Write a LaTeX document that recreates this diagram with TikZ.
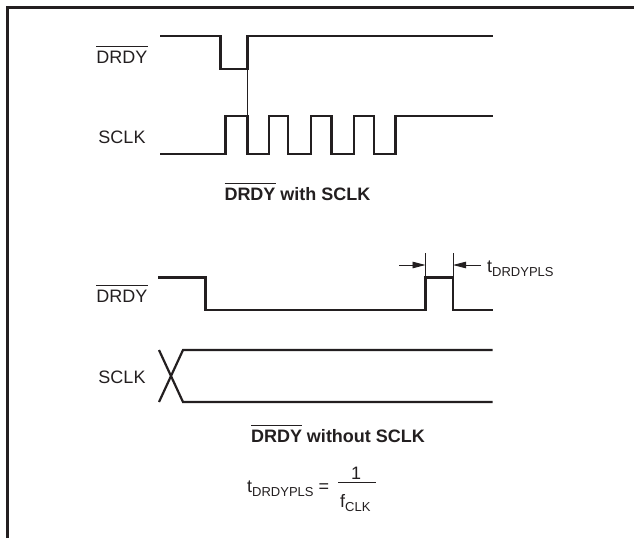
\documentclass[tikz,border=0pt]{standalone}
\usepackage{fontspec}
\setmainfont{Liberation Sans}
\usetikzlibrary{arrows.meta}
\definecolor{ink}{HTML}{231F20}
\newcommand{\ovl}[1]{\leavevmode\vbox{\hrule height 1pt\kern 4pt\hbox{#1}}}
\newcommand{\subx}[1]{\raisebox{-4pt}{\fontsize{13}{13}\selectfont #1}}
\begin{document}
\begin{tikzpicture}[x=1pt,y=-1pt,
  sig/.style={draw=ink,line width=2.5pt,line join=miter},
  thin/.style={draw=ink,line width=0.8pt},
  lbl/.style={text=ink,inner sep=0pt,font=\fontsize{18}{20}\selectfont},
  captxt/.style={text=ink,inner sep=0pt,font=\fontsize{18}{20}\selectfont\bfseries},
  arr/.style={draw=ink,line width=0.9pt,-{Triangle[length=13pt,width=6.5pt]}}]
\useasboundingbox (0,0) rectangle (634,538);
% frame
\draw[ink,line width=3pt] (7,538) -- (7,7) -- (634,7);
% ---------------- top diagram
\node[lbl,anchor=base] (l1) at (122,63) {\ovl{DRDY}};
\node[lbl,anchor=base] (l2) at (122,143) {SCLK};
\draw[sig] (160,36) -- (220.5,36) -- (220.5,69) -- (247.5,69) -- (247.5,36) -- (492.5,36);
\draw[sig] (160,154) -- (225.5,154) -- (225.5,116) -- (247.5,116) -- (247.5,154)
  -- (269,154) -- (269,116) -- (288,116) -- (288,154)
  -- (311,154) -- (311,116) -- (331.5,116) -- (331.5,154)
  -- (354,154) -- (354,116) -- (374,116) -- (374,154)
  -- (395.5,154) -- (395.5,116) -- (492.5,116);
\coordinate (ta) at (247.5,69);
\coordinate (tb) at (247.5,116);
\draw[thin] (ta) -- (tb);
\node[captxt,anchor=base] (c1) at (297.5,200) {\ovl{DRDY} with SCLK};
% ---------------- bottom diagram
\node[lbl,anchor=base] (l3) at (122,302) {\ovl{DRDY}};
\node[lbl,anchor=base] (l4) at (122,383) {SCLK};
\draw[sig] (158,277.5) -- (205.5,277.5) -- (205.5,310) -- (425.5,310) -- (425.5,277.5)
  -- (453,277.5) -- (453,310) -- (492.5,310);
\draw[sig,line width=2.2pt] (159,350) -- (183,402) -- (492.5,402);
\draw[sig,line width=2.2pt] (159,402) -- (183,350) -- (492.5,350);
% pulse width markers
\coordinate (k1a) at (425.5,253);
\coordinate (k1b) at (425.5,276);
\coordinate (k2a) at (453,253);
\coordinate (k2b) at (453,276);
\draw[thin] (k1a) -- (k1b);
\draw[thin] (k2a) -- (k2b);
\coordinate (a1s) at (399,265);
\coordinate (a1e) at (425.5,265);
\coordinate (a2s) at (481,265);
\coordinate (a2e) at (453,265);
\draw[arr] (a1s) -- (a1e);
\draw[arr] (a2s) -- (a2e);
\node[lbl,anchor=base west] (tl) at (487,272) {t\subx{DRDYPLS}};
\node[captxt,anchor=base] (c2) at (338,442) {\ovl{DRDY} without SCLK};
% formula
\node[lbl,anchor=base west] (fl) at (247,492) {t\subx{DRDYPLS} =};
\node[lbl,anchor=base] (fn) at (356,479) {1};
\node[lbl,anchor=base west] (fd) at (340,507) {f\subx{CLK}};
\coordinate (fb1) at (338,482);
\coordinate (fb2) at (375.5,482);
\draw[thin,line width=1pt] (fb1) -- (fb2);
\end{tikzpicture}
\end{document}
